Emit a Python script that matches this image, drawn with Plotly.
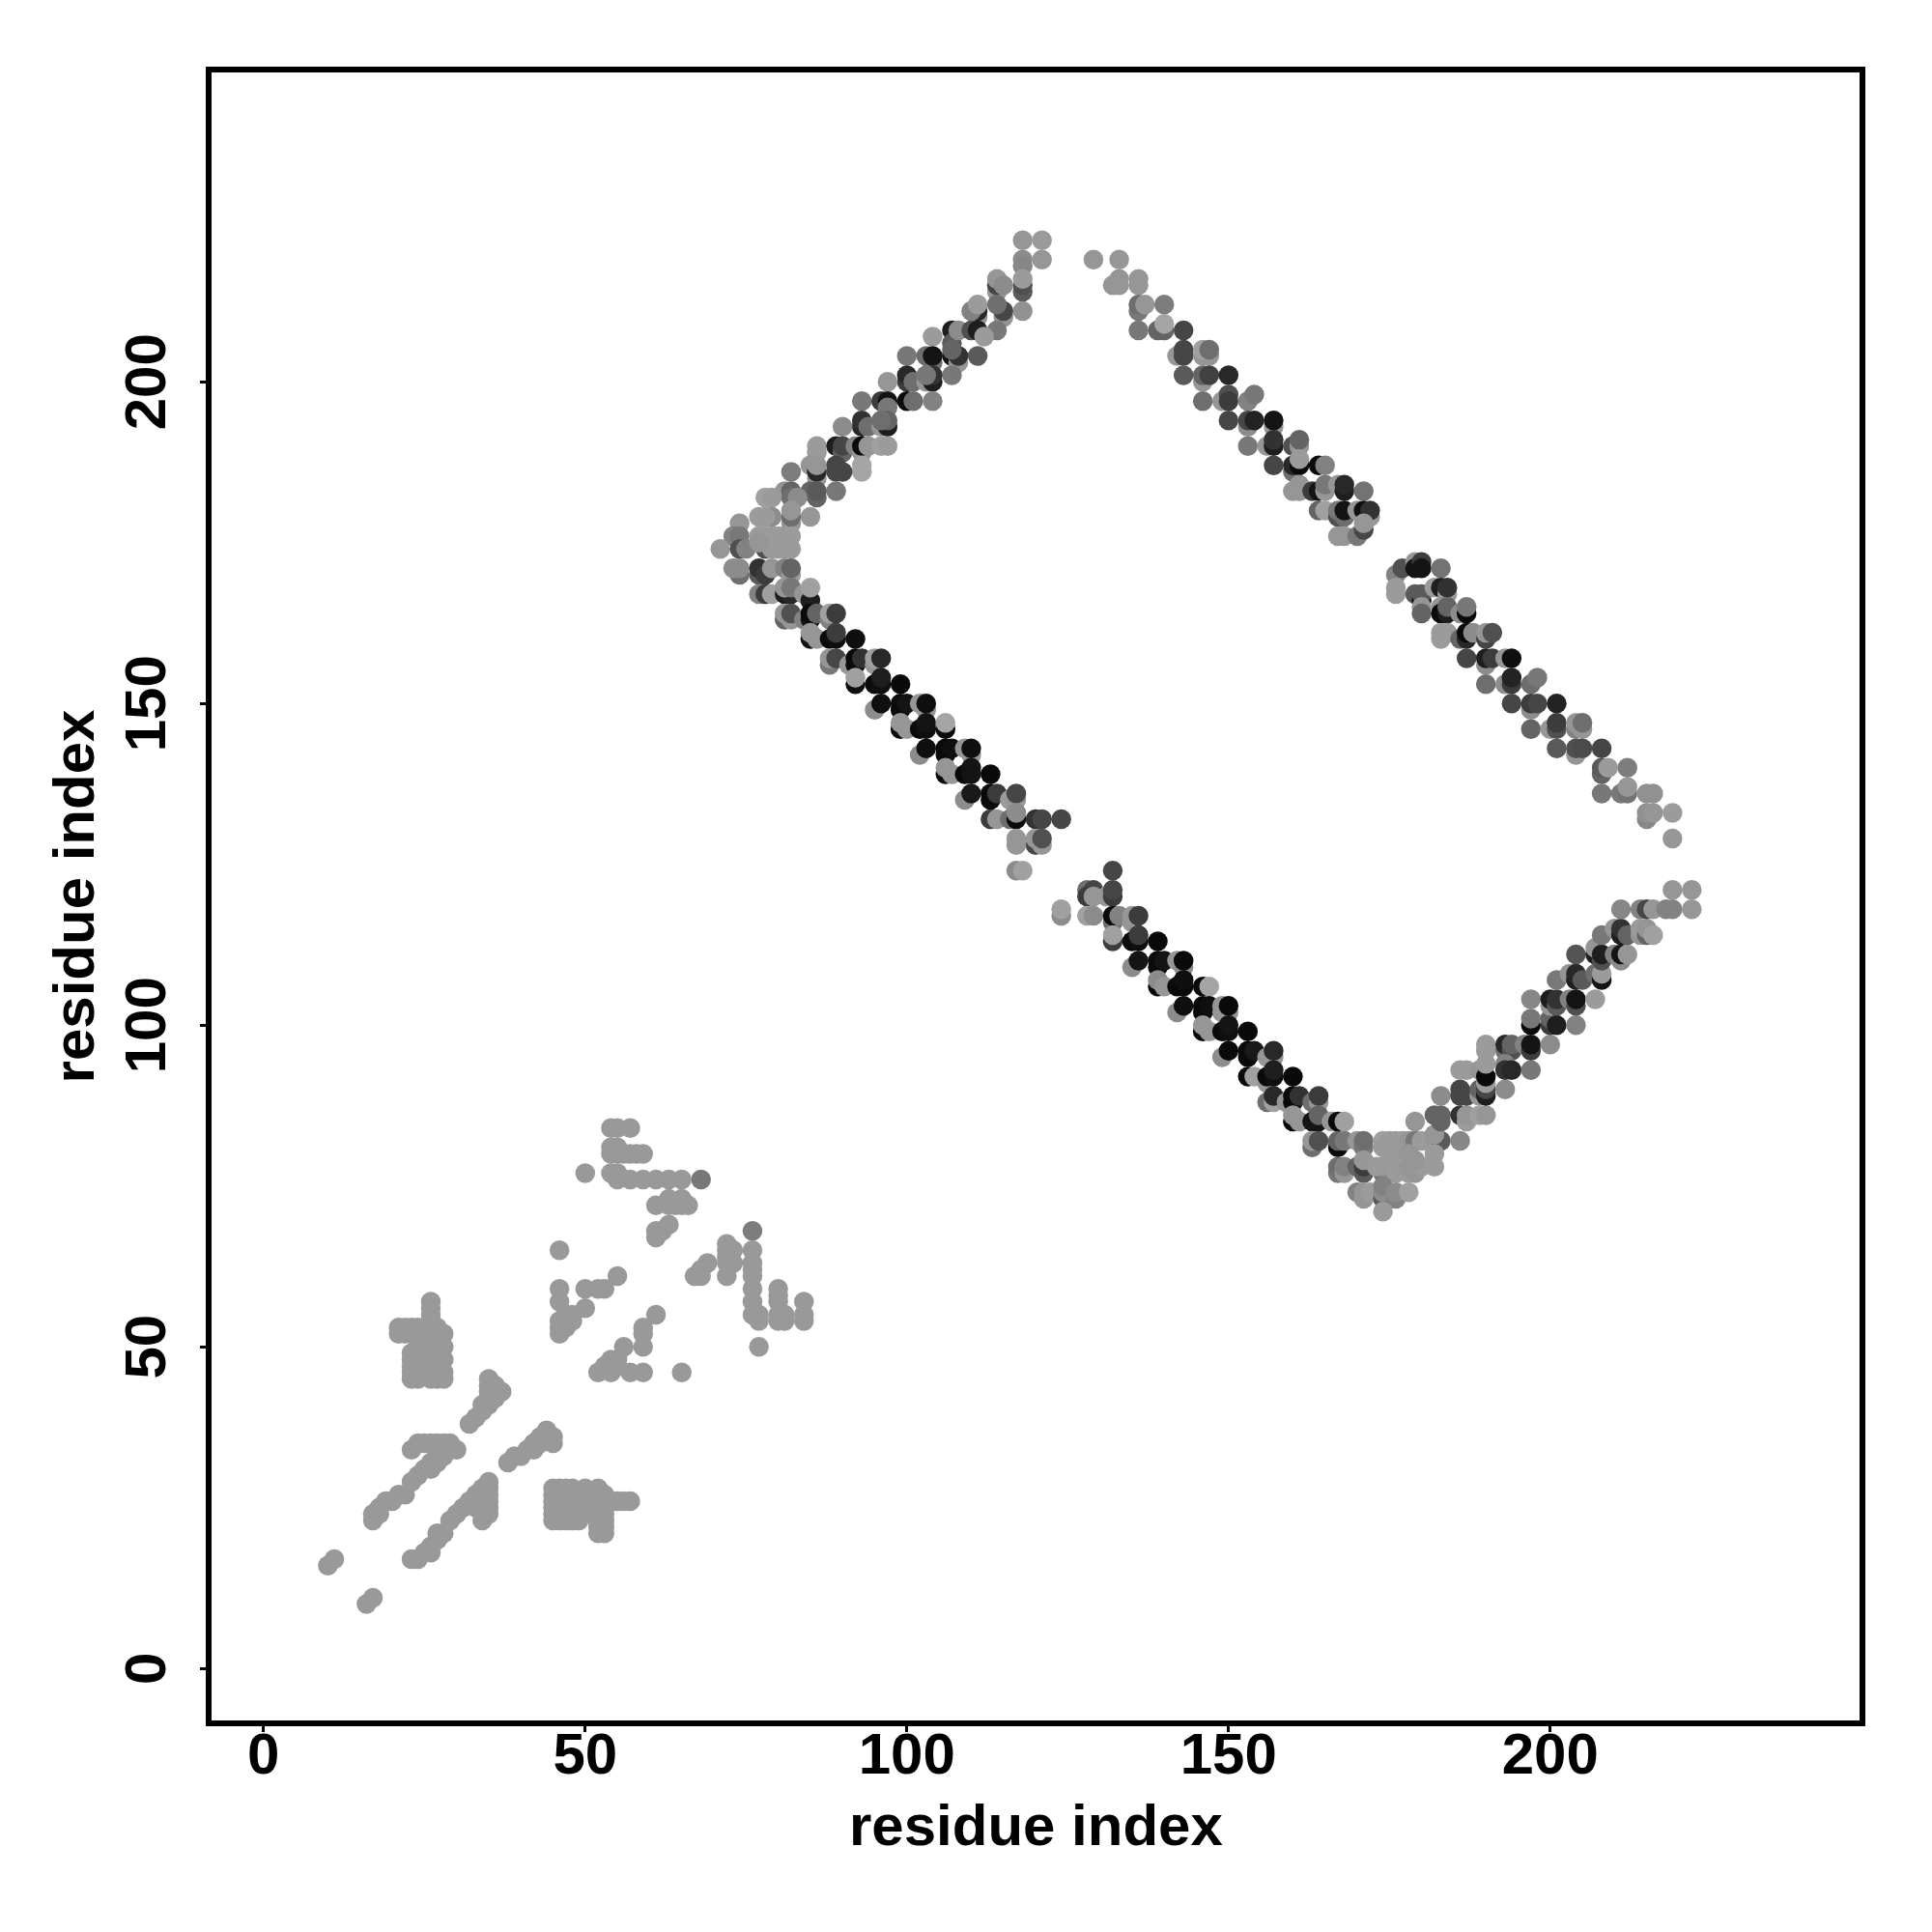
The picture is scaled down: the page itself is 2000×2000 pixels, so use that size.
import plotly.graph_objects as go

# (residue i, residue j, grey level)
A = 153
small_domain = [(x, y, A) for x, y in [
 (10,16),(11,17),(16,10),(17,11),(17,23),(17,24),(18,24),(18,25),(19,26),(20,26),(21,27),(22,27),
 (23,29),(24,30),(25,31),(26,32),(27,32),(27,33),(27,34),(28,33),(28,34),(29,34),(30,34),
 (23,34),(24,35),(25,35),(26,35),(27,35),(28,35),(29,35),(26,31),
 (23,17),(24,17),(25,18),(26,18),(26,19),(27,20),(27,21),(28,21),(29,23),(30,24),(31,25),(32,26),(33,27),(34,28),(35,29),
 (34,23),(35,24),(35,25),(35,26),(35,27),(35,28),(34,24),(34,25),(33,25),(34,26),
 (38,32),(39,33),(40,33),(41,34),(42,34),(42,35),(43,35),(43,36),(44,36),(44,37),(45,36),(45,35),
 (32,38),(33,39),(34,40),(34,41),(35,41),(35,42),(36,42),(36,43),(37,43),(35,43),(35,44),(35,45),(36,44),
 (26,57),(26,56),(26,55),(26,54),(21,53),(21,52),(22,53),(22,52),(23,53),(24,53),(25,53),(27,53),
 (24,52),(25,52),(26,52),(27,52),(28,52),(24,51),(25,51),(26,51),(27,51),(24,50),(25,50),(26,50),(27,50),(28,50),
 (23,49),(24,49),(25,49),(26,49),(27,49),(23,48),(24,48),(25,48),(26,48),(27,48),(28,48),(23,47),(24,47),(25,47),(26,47),(27,47),
 (23,46),(24,46),(25,46),(26,46),(27,46),(28,46),(23,45),(24,45),(26,45),(27,45),(28,45),
 (45,28),(46,28),(47,28),(48,28),(50,28),(52,28),(45,27),(46,27),(47,27),(48,27),(49,27),(50,27),(51,27),(52,27),(53,27),
 (45,26),(46,26),(47,26),(48,26),(49,26),(50,26),(51,26),(52,26),(53,26),(54,26),(55,26),(56,26),(57,26),
 (45,25),(46,25),(47,25),(48,25),(49,25),(50,25),(51,25),(52,25),(53,25),
 (45,24),(46,24),(47,24),(48,24),(49,24),(50,24),(51,24),(52,24),(53,24),
 (45,23),(46,23),(47,23),(48,23),(49,23),(52,23),(53,23),(52,22),(53,22),(52,21),(53,21),
 (54,84),(55,84),(57,84),(54,81),(55,81),(54,80),(55,80),(56,80),(57,80),(58,80),(59,80),
 (50,77),(54,77),(55,77),(55,76),(57,76),(59,76),(61,76),(63,76),(65,76),
 (61,72),(63,73),(65,73),(63,72),(64,72),(65,72),(66,72),(61,67),(61,68),(62,68),(63,69),
 (76,65),(76,63),(76,62),(76,61),(76,59),(76,57),(76,55),(77,55),(77,54),(77,50),
 (72,66),(72,65),(73,65),(72,64),(72,63),(73,63),(72,61),(69,63),(68,62),(67,61),(68,61),
 (80,59),(80,58),(80,57),(80,55),(80,54),(81,55),(81,54),(84,57),(84,55),(84,54),
 (46,65),(46,59),(46,57),(46,54),(46,53),(46,52),(47,53),(47,55),(48,55),(48,54),(50,56),(50,59),(52,59),(53,59),(55,61),
 (61,55),(59,53),(59,52),(59,50),(56,50),(54,48),(55,48),(55,47),(53,47),(52,46),(54,46),(57,46),(59,46),(65,46),
]] + [(68,76,120),(76,68,125)]

upper_left = [
 (118,222,150),(121,222,155),(118,219,140),(121,219,150),(118,218,135),
 (118,214,90),(118,215,80),(118,216,155),(118,211,145),
 (114,214,150),(114,215,70),(114,216,150),(115,215,140),
 (115,210,150),(115,211,70),(114,212,110),(111,210,150),(111,211,40),(110,211,130),(111,212,155),(114,208,120),
 (107,204,20),(108,203,150),(108,204,50),(111,204,90),(107,208,30),(107,206,90),(107,205,100),(108,208,140),
 (110,208,80),(111,208,30),(112,207,155),(107,201,120),
 (104,207,155),(100,204,120),(103,204,110),(104,203,110),(104,204,20),
 (100,200,60),(100,201,40),(101,200,110),(97,200,150),
 (103,200,150),(104,200,30),(104,201,50),(103,201,120),
 (93,197,120),(96,197,60),(97,197,20),(100,197,10),(101,197,110),(104,197,130),(97,196,120),
 (93,193,40),(93,194,50),(94,193,110),(90,193,140),(96,193,150),(97,193,30),(97,194,100),(96,194,110),
 (86,190,155),(89,190,30),(90,189,100),(90,190,70),(92,190,130),(93,189,150),(93,190,10),(94,190,150),(96,190,160),(97,190,155),(93,187,165),(93,186,165),
 (86,189,155),(85,187,150),(86,185,150),(86,186,40),(86,187,150),(82,186,125),
 (89,187,70),(89,186,70),(90,186,70),
 (89,183,120),(85,183,100),(86,182,100),(86,183,90),(81,183,150),(82,183,100),(82,182,110),(83,182,140),
 (78,182,160),(79,182,155),(85,179,150),(82,178,150),(82,179,110),(82,180,150),(77,179,155),(79,179,140),(78,179,155),
 (74,178,150),(73,176,130),(74,176,120),(71,174,150),(74,174,80),(75,174,130),
 (77,176,155),(78,176,155),(79,176,155),(80,176,155),(81,176,155),(82,176,155),(78,174,80),(79,174,155),(80,174,155),(81,174,155),(82,174,155),(79,175,155),(81,175,155),(77,175,150),
 (74,170,110),(73,171,140),(74,171,140),(77,170,90),(77,171,50),(78,170,60),(79,171,150),(81,171,130),(82,170,155),(82,171,100),
 (77,167,130),(78,167,60),(79,167,160),(81,167,30),(82,167,40),(81,168,150),(82,168,120),(84,167,150),(85,166,30),(85,168,160),
]

lower_left = [
 (81,163,100),(82,163,150),(81,164,150),(82,164,80),(84,163,130),(85,163,20),(85,164,10),(86,164,100),(88,163,130),(88,164,160),(89,164,60),
 (85,160,20),(86,160,150),(85,161,150),(88,160,10),(89,160,15),(89,161,60),(92,160,15),
 (88,156,120),(88,157,150),(89,157,70),(91,156,150),(92,156,10),(92,157,10),(93,157,50),(95,156,150),(95,157,160),(96,157,40),
 (92,153,15),(92,154,160),(95,153,10),(96,153,15),(96,154,30),(99,153,10),
 (95,149,140),(96,150,15),(99,149,10),(99,150,10),(100,150,20),(102,150,150),(103,149,150),(103,150,15),
 (99,146,10),(99,147,150),(100,146,150),(102,146,10),(103,146,15),(103,147,20),(106,146,10),(106,147,165),
 (102,142,140),(103,143,15),(106,142,10),(106,143,10),(107,143,15),(109,143,150),(110,142,150),(110,143,15),
 (106,139,10),(106,140,150),(107,139,150),(109,139,10),(110,139,20),(110,140,20),(113,139,10),
 (109,135,140),(110,136,25),(113,135,10),(113,136,10),(114,136,60),(116,135,155),(117,135,150),(117,136,70),
 (113,132,60),(114,132,150),(116,132,110),(117,132,10),(117,133,140),(120,132,50),(121,132,70),(124,132,70),
 (120,128,70),(120,129,150),(121,128,150),(121,129,80),(117,128,150),(117,129,150),(117,124,140),(118,124,160),
]

lower_mid = [
 (132,124,70),(128,121,110),(129,121,70),(128,120,60),(129,120,150),(131,120,150),(132,120,60),(132,121,70),
 (124,117,140),(124,118,160),(128,117,160),(129,117,140),(132,116,110),(132,117,10),(133,117,130),(135,116,150),(135,117,150),(136,117,60),
 (132,113,60),(132,114,160),(135,113,10),(136,113,15),(136,114,60),(139,113,10),
 (135,109,140),(136,110,20),(139,109,10),(139,110,10),(140,110,20),(142,110,150),(143,109,140),(143,110,10),
 (139,106,10),(139,107,140),(140,106,150),(142,106,10),(143,106,10),(143,107,15),(146,106,10),(147,106,165),
 (142,102,140),(143,103,15),(146,102,10),(146,103,10),(147,103,15),(149,102,150),(149,103,150),(150,102,150),(150,103,10),
 (146,99,10),(146,100,150),(147,99,150),(149,99,10),(150,99,15),(150,100,20),(153,99,10),
 (149,95,140),(150,96,10),(153,95,10),(153,96,10),(154,96,25),(156,95,150),(157,95,150),(157,96,40),
 (153,92,10),(154,92,160),(156,91,150),(156,92,10),(157,92,15),(157,93,30),(160,92,10),
 (156,88,110),(157,88,160),(157,89,40),(159,88,150),(160,88,10),(160,89,10),(161,89,50),(163,88,110),(164,88,150),(164,89,60),
 (160,85,10),(160,86,150),(161,85,150),(163,85,20),(164,85,20),(164,86,100),(166,85,150),(167,85,10),(168,85,160),
]

lower_tip = [
 (163,81,110),(163,82,150),(164,82,80),(167,81,10),(167,82,100),(168,82,120),(170,82,150),(171,81,120),(171,82,110),
 (167,77,120),(167,78,110),(168,77,150),(168,78,130),(170,78,100),(171,77,90),(171,78,60),(171,79,150),
 (174,77,110),(174,78,150),(173,78,155),(176,77,155),(176,78,155),(178,77,155),(178,78,150),(179,77,150),(179,78,150),(180,78,155),
 (174,82,160),(175,82,155),(176,82,155),(177,82,155),(178,82,150),(179,82,120),(180,82,155),(174,81,155),(175,80,155),(176,80,155),(177,80,155),(178,80,150),(179,79,150),
 (182,82,150),(183,82,90),(186,82,135),(182,83,150),(182,80,155),(182,78,155),(179,85,150),
 (170,74,130),(171,73,150),(171,74,150),(172,74,155),(174,73,90),(174,74,140),(174,75,130),(176,73,130),(176,74,140),(178,74,160),(174,71,155),
]

lower_right = [
 (183,85,100),(182,86,100),(183,86,100),(186,86,50),(187,85,155),(187,86,150),(189,86,160),(190,86,150),
 (183,89,140),(186,89,70),(186,90,70),(187,89,70),(189,89,150),(189,90,100),(190,89,30),(190,90,70),(193,90,140),
 (186,93,155),(187,93,155),(189,93,150),(190,91,155),(190,92,10),(190,94,155),(190,96,155),(190,97,155),
 (193,96,110),(193,97,40),(194,96,80),(194,97,100),(196,97,130),(197,96,60),(197,97,20),(200,97,140),
 (193,94,130),(193,93,50),(194,93,40),(197,93,120),
 (197,100,10),(197,101,120),(200,100,60),(200,101,100),(201,100,30),(204,100,130),
 (197,104,135),(200,103,150),(200,104,30),(201,103,90),(201,104,50),(203,104,130),(204,103,80),(204,104,20),(207,104,155),
 (201,107,120),(203,108,150),(204,107,30),(204,108,40),(205,107,90),(207,108,110),(208,107,20),(208,108,155),
 (204,111,85),(207,111,30),(207,112,150),(208,110,80),(208,111,30),(210,111,130),(211,110,140),(211,111,20),(212,111,150),
 (208,114,120),(210,115,150),(211,114,30),(211,115,50),(212,114,100),(214,114,150),(214,115,155),(215,114,100),(215,115,150),(216,114,160),
 (211,118,135),(214,118,130),(215,118,70),(216,118,150),(218,118,130),(219,118,130),(222,118,150),(219,121,150),(222,121,150),
]

upper_mid = [
 (129,219,150),(133,219,150),(132,215,150),(133,216,150),(133,215,150),(136,216,150),(136,215,150),
 (136,211,120),(136,212,110),(137,212,150),(140,212,125),
 (136,208,120),(139,208,100),(140,208,100),(140,209,165),(143,208,70),
 (142,204,150),(143,205,70),(143,204,70),(146,204,150),(147,204,150),(146,205,160),(147,205,110),
 (143,201,90),(146,200,150),(146,201,100),(147,201,65),(150,201,40),
 (146,197,110),(149,197,150),(150,198,80),(150,197,60),(153,197,130),(154,198,120),
 (150,194,70),(153,193,140),(153,194,70),(154,194,35),(157,193,150),(157,194,20),
 (153,190,120),(156,190,150),(157,190,30),(157,191,50),(160,190,80),(161,190,150),(161,191,100),
 (157,187,70),(160,186,110),(160,187,40),(161,187,10),(161,188,155),(164,187,10),(165,187,130),
 (160,183,150),(161,184,150),(161,183,150),(163,183,60),(164,183,20),(165,183,150),(165,184,120),(167,184,150),(168,183,30),(168,184,40),(171,183,115),
 (164,180,100),(165,180,160),(167,179,80),(167,180,120),(168,179,110),(168,180,20),(170,180,150),(172,179,150),(171,180,15),(172,180,50),
 (167,176,150),(168,176,150),(170,176,120),(171,177,70),(171,178,150),
]

upper_right = [
 (176,170,130),(177,171,80),(179,172,150),(179,171,20),(180,172,60),(180,171,20),(183,171,115),
 (176,168,155),(176,167,155),(179,167,90),(180,166,10),(180,167,90),(182,168,155),(183,168,30),(184,167,155),(184,168,50),(180,165,150),(180,164,100),
 (183,165,150),(183,164,10),(184,164,30),(184,165,100),(186,164,140),(187,164,10),(187,165,120),
 (183,161,155),(184,161,155),(183,160,155),(186,160,100),(187,160,40),(187,161,10),(188,161,140),(190,160,70),(190,161,150),(191,161,80),
 (187,157,70),(190,156,140),(190,157,30),(191,157,60),(193,157,150),(194,157,15),
 (190,153,110),(193,153,140),(194,153,60),(194,154,35),(197,153,110),(198,154,120),
 (194,150,70),(197,149,140),(197,150,60),(198,150,70),(201,150,35),
 (197,146,100),(200,146,150),(201,146,80),(201,147,60),(204,146,130),(204,147,150),(205,146,150),(205,147,110),
 (201,143,90),(204,142,150),(204,143,80),(205,143,75),(208,143,70),
 (208,139,100),(208,140,90),(209,140,155),(212,140,125),
 (208,136,120),(211,136,120),(212,136,115),(212,137,150),(215,136,145),(216,136,145),
 (215,132,135),(215,133,145),(216,133,150),(219,133,155),(219,129,150),
]

x_ticks = [0, 50, 100, 150, 200]
axis_title = "residue index"
FONT = "Liberation Sans"

bands = [small_domain, upper_left, lower_left, lower_mid, lower_tip, lower_right, upper_mid, upper_right]
points = [p for b in bands for p in b]
xs = [p[0] for p in points]
ys = [p[1] for p in points]
cols = [f"rgb({p[2]},{p[2]},{p[2]})" for p in points]

fig = go.Figure(go.Scatter(x=xs, y=ys, mode="markers",
    marker=dict(size=20.5, color=cols, line=dict(width=0)), hoverinfo="skip"))

axis = dict(tickvals=x_ticks, ticks="outside", ticklen=6, tickwidth=3, tickcolor="black",
            showgrid=False, zeroline=False, showline=True, linecolor="black", linewidth=6, mirror=True,
            range=[-8.08, 248.08], tickfont=dict(family=FONT, size=60, color="black", weight="bold"))
title_font = dict(family=FONT, size=60, color="black", weight="bold")
fig.update_xaxes(**axis, ticklabelstandoff=-29)
fig.update_yaxes(**axis, tickangle=-90, ticklabelstandoff=12, ticklabelshift=9, title=dict(text=axis_title, font=title_font, standoff=2))
fig.add_annotation(text=axis_title, xref="paper", yref="paper", x=0.5, y=-0.0635, xanchor="center", yanchor="middle",
                   showarrow=False, font=title_font)
fig.update_layout(width=2000, height=2000, autosize=False, paper_bgcolor="white", plot_bgcolor="white",
    margin=dict(l=211, r=83, t=67, b=227), showlegend=False)
fig.write_html("out.html")
